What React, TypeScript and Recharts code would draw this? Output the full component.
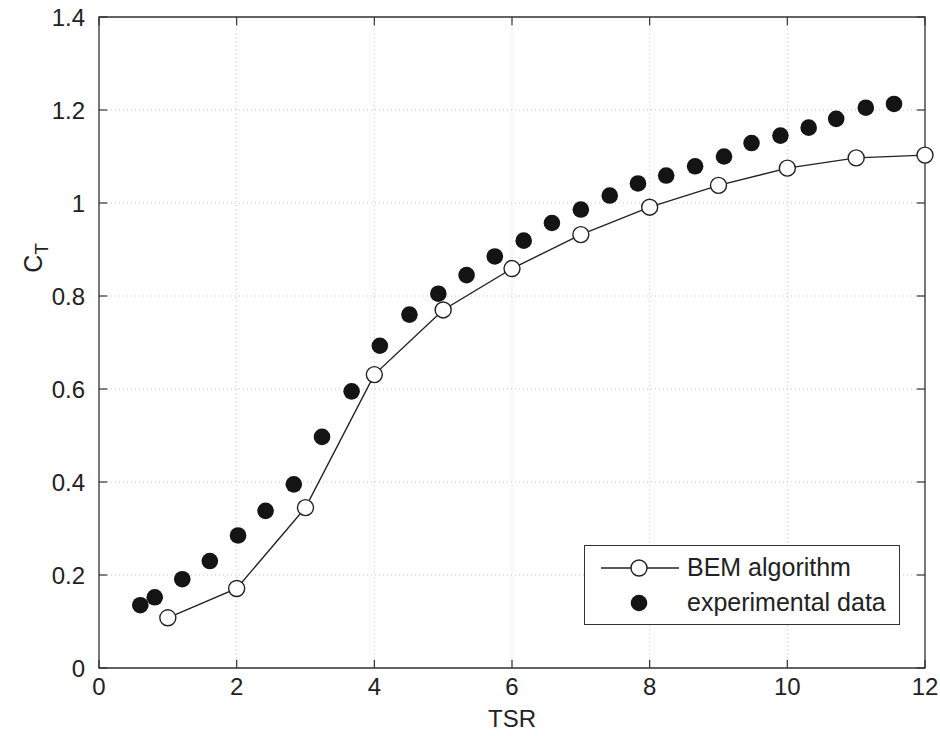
import {
  ScatterChart,
  Scatter,
  XAxis,
  YAxis,
  CartesianGrid,
  ReferenceArea,
  ReferenceLine,
} from 'recharts';

// BEM algorithm (open circles joined by a line)
const bemTsr = [1, 2, 3, 4, 5, 6, 7, 8, 9, 10, 11, 12];
const bemCt = [0.108, 0.171, 0.345, 0.631, 0.77, 0.859, 0.932, 0.991, 1.038, 1.075, 1.097, 1.103];

// experimental data (filled circles)
const expTsr = [
  0.6, 0.81, 1.21, 1.61, 2.02, 2.42, 2.83, 3.24, 3.67, 4.08, 4.51, 4.93, 5.34, 5.75,
  6.17, 6.58, 7.0, 7.42, 7.83, 8.24, 8.66, 9.08, 9.48, 9.9, 10.31, 10.71, 11.14, 11.55,
];
const expCt = [
  0.135, 0.152, 0.191, 0.23, 0.285, 0.338, 0.395, 0.497, 0.595, 0.693, 0.76, 0.805, 0.845, 0.885,
  0.919, 0.957, 0.986, 1.016, 1.042, 1.059, 1.079, 1.1, 1.129, 1.145, 1.162, 1.181, 1.205, 1.213,
];

const xTicks = [0, 2, 4, 6, 8, 10, 12];
const yTicks = [0, 0.2, 0.4, 0.6, 0.8, 1, 1.2, 1.4];

const bemData = bemTsr.map((tsr, i) => ({ tsr, ct: bemCt[i] }));
const expData = expTsr.map((tsr, i) => ({ tsr, ct: expCt[i] }));

const FONT = '"Liberation Sans", Arial, sans-serif';
const INK = '#222';
const AXIS = '#333';

// inward tick length in data units
const tickX = 0.12;
const tickY = 0.018;

function OpenCircle(props: any) {
  return <circle cx={props.cx} cy={props.cy} r={8} fill="#fff" stroke={INK} strokeWidth={1.4} />;
}

function FilledCircle(props: any) {
  return <circle cx={props.cx} cy={props.cy} r={8.3} fill="#141414" />;
}

function YLabel(props: any) {
  const vb = props.viewBox;
  const cx = vb.x + 35;
  const cy = vb.y + vb.height * 0.37;
  return (
    <text
      x={cx}
      y={cy}
      transform={`rotate(-90, ${cx}, ${cy})`}
      textAnchor="middle"
      dominantBaseline="middle"
      fontFamily={FONT}
      fontSize={25}
      fill={INK}
    >
      C<tspan fontSize={19} dy={8}>T</tspan>
    </text>
  );
}

function LegendBox() {
  return (
    <div
      style={{
        position: 'absolute',
        left: 584,
        top: 545,
        width: 316,
        height: 80,
        border: `1.5px solid ${AXIS}`,
        background: '#fff',
        fontFamily: FONT,
        fontSize: 25,
        color: INK,
        boxSizing: 'border-box',
      }}
    >
      <svg width={100} height={80} style={{ position: 'absolute', left: 0, top: 0 }}>
        <line x1={16} y1={22} x2={94} y2={22} stroke={INK} strokeWidth={1.4} />
        <circle cx={54} cy={22} r={8} fill="#fff" stroke={INK} strokeWidth={1.4} />
        <circle cx={54} cy={57} r={8.3} fill="#141414" />
      </svg>
      <div style={{ position: 'absolute', left: 102, top: 7, lineHeight: '28px' }}>BEM algorithm</div>
      <div style={{ position: 'absolute', left: 102, top: 42, lineHeight: '28px' }}>experimental data</div>
    </div>
  );
}

export default function App() {
  return (
    <div style={{ position: 'absolute', left: 0, top: 0, width: 940, height: 736, background: '#fff' }}>
      <ScatterChart width={940} height={736} margin={{ top: 17, right: 15, left: 0, bottom: 0 }}>
        <CartesianGrid stroke="#c8c8c8" strokeDasharray="1 3" />
        <XAxis
          type="number"
          dataKey="tsr"
          domain={[0, 12]}
          ticks={xTicks}
          height={68}
          axisLine={false}
          tickLine={false}
          tickSize={0}
          tickMargin={10}
          tick={{ fontFamily: FONT, fontSize: 24, fill: INK }}
          label={{ value: 'TSR', position: 'insideBottom', offset: 9, fontFamily: FONT, fontSize: 24, fill: INK }}
        />
        <YAxis
          type="number"
          dataKey="ct"
          domain={[0, 1.4]}
          ticks={yTicks}
          width={99}
          axisLine={false}
          tickLine={false}
          tickSize={0}
          tickMargin={14}
          tick={{ fontFamily: FONT, fontSize: 24, fill: INK }}
          label={<YLabel />}
        />
        <ReferenceArea x1={0} x2={12} y1={0} y2={1.4} fill="none" stroke={AXIS} strokeWidth={1.3} />
        {yTicks.map((v) => (
          <ReferenceLine key={'yl' + v} segment={[{ x: 0, y: v }, { x: tickX, y: v }]} stroke={AXIS} strokeWidth={1.2} />
        ))}
        {yTicks.map((v) => (
          <ReferenceLine key={'yr' + v} segment={[{ x: 12 - tickX, y: v }, { x: 12, y: v }]} stroke={AXIS} strokeWidth={1.2} />
        ))}
        {xTicks.map((v) => (
          <ReferenceLine key={'xb' + v} segment={[{ x: v, y: 0 }, { x: v, y: tickY }]} stroke={AXIS} strokeWidth={1.2} />
        ))}
        {xTicks.map((v) => (
          <ReferenceLine key={'xt' + v} segment={[{ x: v, y: 1.4 - tickY }, { x: v, y: 1.4 }]} stroke={AXIS} strokeWidth={1.2} />
        ))}
        <Scatter
          name="BEM algorithm"
          data={bemData}
          line={{ stroke: INK, strokeWidth: 1.4 }}
          lineJointType="linear"
          shape={<OpenCircle />}
          isAnimationActive={false}
        />
        <Scatter
          name="experimental data"
          data={expData}
          shape={<FilledCircle />}
          isAnimationActive={false}
        />
      </ScatterChart>
      <LegendBox />
    </div>
  );
}
